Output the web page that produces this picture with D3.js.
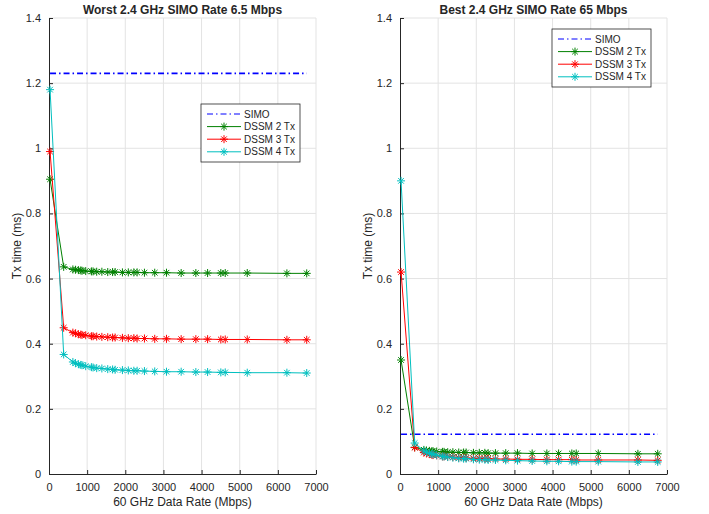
<!DOCTYPE html>
<html>
<head>
<meta charset="utf-8">
<script src="https://d3js.org/d3.v7.min.js"></script>
<style>
  body { margin: 0; background: #fff; }
  text { font-family: "Liberation Sans", Arial, sans-serif; fill: #262626; }
</style>
</head>
<body>
<script>
// 60 GHz rates (Mbps) on the x axis
var rates = [27.5, 385, 626, 693, 770, 834, 866, 962.5, 1112, 1155, 1251, 1386, 1540, 1668, 1732.5,
  1925, 2079, 2224, 2310, 2502.5, 2772, 3080, 3465, 3850, 4158, 4504.5, 4620, 5197.5, 6237, 6756.75];

// Worst case (6.5 Mbps SIMO)
var worstSimo = 1.23;
var worst2 = [0.905, 0.636, 0.628, 0.627, 0.626, 0.625, 0.624, 0.623, 0.622, 0.622, 0.621, 0.621, 0.620, 0.620, 0.620,
  0.619, 0.619, 0.619, 0.619, 0.618, 0.618, 0.618, 0.617, 0.617, 0.617, 0.617, 0.617, 0.617, 0.616, 0.616];
var worst3 = [0.99, 0.449, 0.434, 0.432, 0.429, 0.428, 0.427, 0.426, 0.423, 0.423, 0.422, 0.421, 0.420, 0.419, 0.419,
  0.418, 0.417, 0.417, 0.416, 0.416, 0.415, 0.415, 0.414, 0.414, 0.414, 0.413, 0.413, 0.413, 0.412, 0.412];
var worst4 = [1.18, 0.367, 0.344, 0.340, 0.337, 0.335, 0.334, 0.331, 0.328, 0.327, 0.325, 0.324, 0.322, 0.321, 0.320,
  0.319, 0.318, 0.317, 0.317, 0.316, 0.315, 0.314, 0.314, 0.313, 0.313, 0.312, 0.312, 0.311, 0.311, 0.310];

// Best case (65 Mbps SIMO)
var bestSimo = 0.122;
var best2 = [0.35, 0.082, 0.074, 0.072, 0.071, 0.070, 0.070, 0.069, 0.068, 0.068, 0.067, 0.067, 0.066, 0.066, 0.066,
  0.065, 0.065, 0.065, 0.064, 0.064, 0.064, 0.064, 0.063, 0.063, 0.063, 0.063, 0.063, 0.063, 0.062, 0.062];
var best3 = [0.62, 0.081, 0.066, 0.063, 0.061, 0.059, 0.058, 0.057, 0.054, 0.054, 0.053, 0.052, 0.050, 0.050, 0.049,
  0.048, 0.048, 0.047, 0.047, 0.046, 0.046, 0.045, 0.045, 0.044, 0.044, 0.044, 0.043, 0.043, 0.043, 0.042];
var best4 = [0.90, 0.095, 0.071, 0.067, 0.064, 0.062, 0.060, 0.058, 0.054, 0.054, 0.052, 0.050, 0.048, 0.047, 0.047,
  0.045, 0.044, 0.044, 0.043, 0.043, 0.042, 0.041, 0.040, 0.039, 0.039, 0.038, 0.038, 0.038, 0.037, 0.037];

var xTicks = [0, 1000, 2000, 3000, 4000, 5000, 6000, 7000];
var yTicks = [0, 0.2, 0.4, 0.6, 0.8, 1, 1.2, 1.4];
var seriesNames = ["SIMO", "DSSM 2 Tx", "DSSM 3 Tx", "DSSM 4 Tx"];
var seriesColors = ["#0000ff", "#008000", "#ff0000", "#00bfbf"];

var w = 709, h = 514;
var svg = d3.select("body").append("svg").attr("width", w).attr("height", h);

function asterisk(g, x, y, col) {
  var r = 4;
  var p = "M" + (x - r) + "," + y + "H" + (x + r) +
    "M" + x + "," + (y - r) + "V" + (y + r) +
    "M" + (x - r * 0.7) + "," + (y - r * 0.7) + "L" + (x + r * 0.7) + "," + (y + r * 0.7) +
    "M" + (x - r * 0.7) + "," + (y + r * 0.7) + "L" + (x + r * 0.7) + "," + (y - r * 0.7);
  g.append("path").attr("d", p).attr("stroke", col).attr("stroke-width", 1).attr("fill", "none");
}

function drawPanel(left, right, title, simo, s2, s3, s4, legendPos) {
  var top = 18, bottom = 474;
  var x = d3.scaleLinear().domain([0, 7000]).range([left, right]);
  var y = d3.scaleLinear().domain([0, 1.4]).range([bottom, top]);
  var g = svg.append("g");

  // grid
  g.selectAll(".gx").data(xTicks.slice(1)).enter().append("line")
    .attr("x1", function(d) { return x(d); }).attr("x2", function(d) { return x(d); })
    .attr("y1", top).attr("y2", bottom).attr("stroke", "#e3e3e3");
  g.selectAll(".gy").data(yTicks.slice(1)).enter().append("line")
    .attr("x1", left).attr("x2", right)
    .attr("y1", function(d) { return y(d); }).attr("y2", function(d) { return y(d); })
    .attr("stroke", "#e3e3e3");

  // axes
  var xa = g.append("g").attr("transform", "translate(0," + bottom + ")")
    .call(d3.axisBottom(x).tickValues(xTicks).tickSizeInner(-4).tickSizeOuter(0).tickPadding(9)
      .tickFormat(d3.format("d")));
  var ya = g.append("g").attr("transform", "translate(" + left + ",0)")
    .call(d3.axisLeft(y).tickValues(yTicks).tickSizeInner(-4).tickSizeOuter(0).tickPadding(8)
      .tickFormat(function(d) { return d3.format("~g")(d); }));
  [xa, ya].forEach(function(a) {
    a.selectAll("text").style("font-size", "11px").attr("fill", "#262626");
    a.selectAll("line, path").attr("stroke", "#262626");
  });

  // series
  var line = d3.line().x(function(d, i) { return x(rates[i]); }).y(function(d) { return y(d); });
  g.append("path").datum(rates.map(function() { return simo; })).attr("d", line)
    .attr("fill", "none").attr("stroke", seriesColors[0]).attr("stroke-width", 1.6)
    .attr("stroke-dasharray", "6,3,1.5,3");
  [s2, s3, s4].forEach(function(s, k) {
    var col = seriesColors[k + 1];
    g.append("path").datum(s).attr("d", line).attr("fill", "none").attr("stroke", col);
    s.forEach(function(v, i) { asterisk(g, x(rates[i]), y(v), col); });
  });

  // labels
  var cx = (left + right) / 2;
  g.append("text").attr("x", cx).attr("y", 14).attr("text-anchor", "middle")
    .style("font-size", "12px").style("font-weight", "bold").attr("fill", "#000").text(title);
  g.append("text").attr("x", cx).attr("y", 506).attr("text-anchor", "middle")
    .style("font-size", "12px").text("60 GHz Data Rate (Mbps)");
  g.append("text").attr("transform", "translate(" + (left - 28) + "," + ((top + bottom) / 2) + ") rotate(-90)")
    .attr("text-anchor", "middle").style("font-size", "12px").text("Tx time (ms)");

  // legend
  var lg = g.append("g").attr("transform", "translate(" + legendPos[0] + "," + legendPos[1] + ")");
  lg.append("rect").attr("width", 99).attr("height", 58).attr("fill", "#fff").attr("stroke", "#262626").attr("stroke-width", 0.8);
  seriesNames.forEach(function(n, i) {
    var yy = 10 + i * 12.6;
    lg.append("line").attr("x1", 6).attr("x2", 40).attr("y1", yy).attr("y2", yy)
      .attr("stroke", seriesColors[i]).attr("stroke-dasharray", i === 0 ? "6,3,1.5,3" : null);
    if (i > 0) asterisk(lg, 23, yy, seriesColors[i]);
    lg.append("text").attr("x", 43).attr("y", yy + 3.5).style("font-size", "10px").attr("fill", "#000").text(n);
  });
}

drawPanel(49, 316, "Worst 2.4 GHz SIMO Rate 6.5 Mbps", worstSimo, worst2, worst3, worst4, [201, 104]);
drawPanel(400, 667, "Best 2.4 GHz SIMO Rate 65 Mbps", bestSimo, best2, best3, best4, [552, 29]);
</script>
</body>
</html>
